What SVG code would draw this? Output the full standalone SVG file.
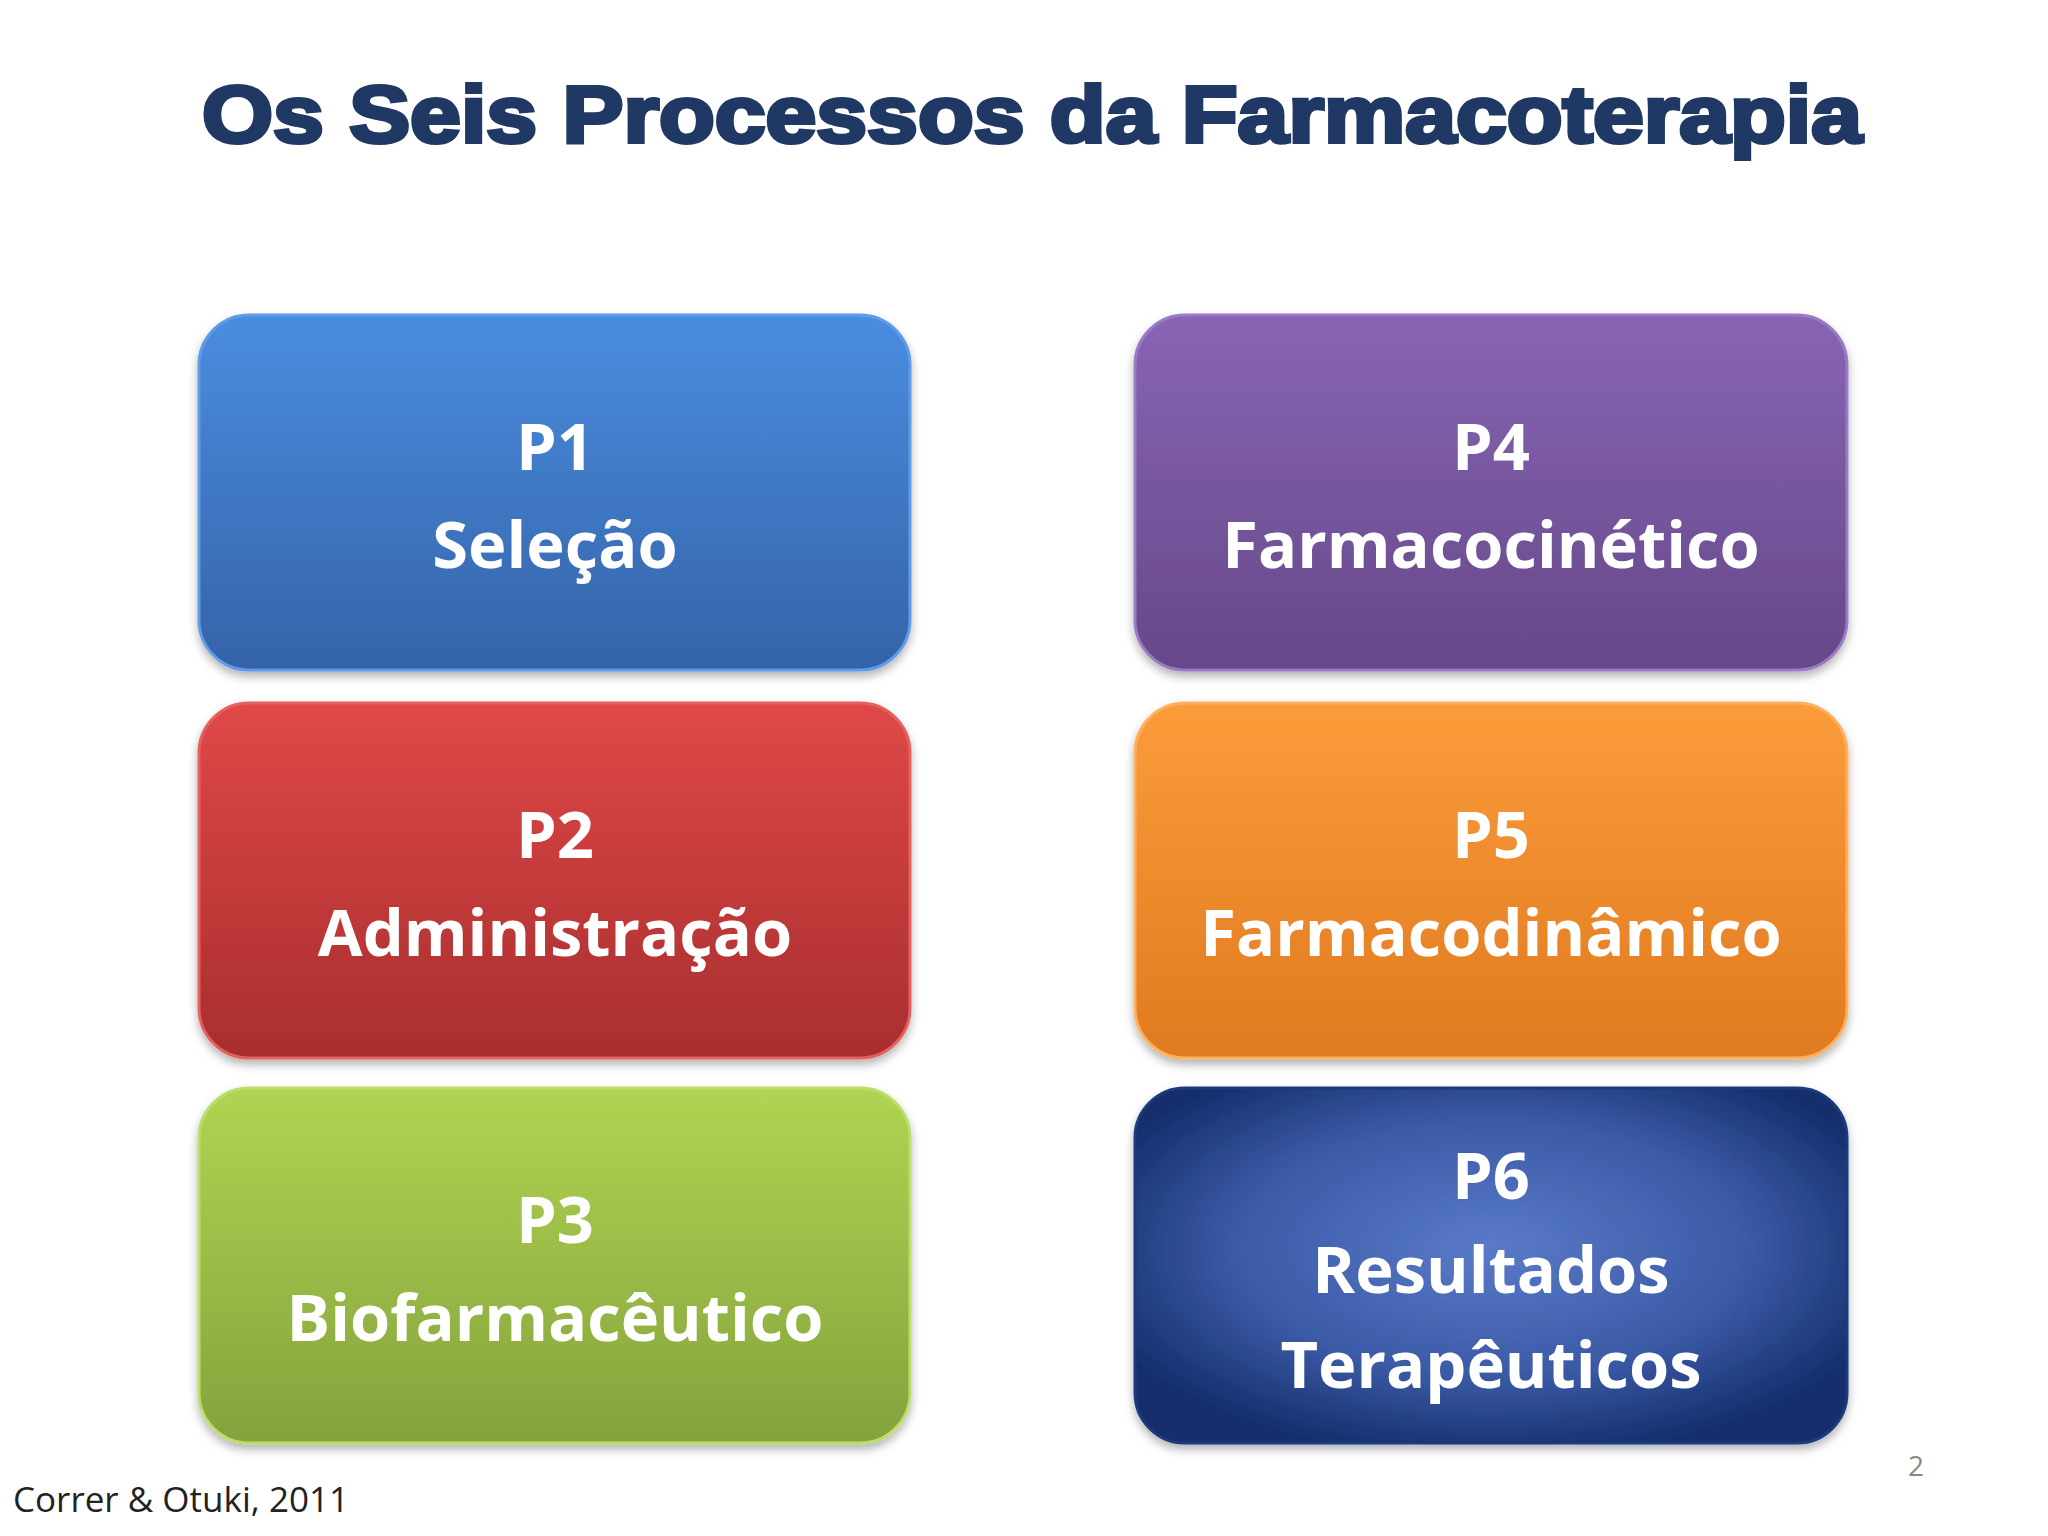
<svg xmlns="http://www.w3.org/2000/svg" width="2048" height="1536" viewBox="0 0 2048 1536">
<defs>
<linearGradient id="gBlue" x1="0" y1="0" x2="0" y2="1"><stop offset="0" stop-color="#4a8de0"/><stop offset="1" stop-color="#3563a8"/></linearGradient>
<linearGradient id="gPurple" x1="0" y1="0" x2="0" y2="1"><stop offset="0" stop-color="#8865b4"/><stop offset="1" stop-color="#654889"/></linearGradient>
<linearGradient id="gRed" x1="0" y1="0" x2="0" y2="1"><stop offset="0" stop-color="#e04848"/><stop offset="1" stop-color="#a82e2e"/></linearGradient>
<linearGradient id="gOrange" x1="0" y1="0" x2="0" y2="1"><stop offset="0" stop-color="#fb9c3a"/><stop offset="1" stop-color="#e07a20"/></linearGradient>
<linearGradient id="gGreen" x1="0" y1="0" x2="0" y2="1"><stop offset="0" stop-color="#b0d452"/><stop offset="1" stop-color="#84a23c"/></linearGradient>
<radialGradient id="gNavy" cx="0.5" cy="0.45" r="0.6"><stop offset="0" stop-color="#5a7ac8"/><stop offset="0.6" stop-color="#3b5aa6"/><stop offset="1" stop-color="#142e6c"/></radialGradient>
<filter id="sh" x="-5%" y="-5%" width="110%" height="115%"><feDropShadow dx="0" dy="5" stdDeviation="5" flood-color="#000" flood-opacity="0.3"/></filter>
</defs>
<style>
.box{filter:url(#sh);stroke-width:3}
.t{font-family:"Open Sans","Liberation Sans",sans-serif;font-weight:bold;font-size:65px;fill:#fff;text-anchor:middle}
</style>
<rect width="2048" height="1536" fill="#fff"/>
<text x="1032" y="142" text-anchor="middle" textLength="1660" lengthAdjust="spacingAndGlyphs" font-family="'Liberation Sans',Arial,sans-serif" font-weight="900" font-size="80" fill="#1f3864" stroke="#1f3864" stroke-width="4">Os Seis Processos da Farmacoterapia</text>
<g id="p1"><rect class="box" x="199" y="315" width="711" height="355" rx="50" fill="url(#gBlue)" stroke="#5f9be6"/><text class="t" x="555" y="470">P1</text><text class="t" x="555" y="568">Seleção</text></g>
<g id="p2"><rect class="box" x="199" y="703" width="711" height="355" rx="50" fill="url(#gRed)" stroke="#e66060"/><text class="t" x="555" y="858">P2</text><text class="t" x="555" y="956">Administração</text></g>
<g id="p3"><rect class="box" x="199" y="1088" width="711" height="355" rx="50" fill="url(#gGreen)" stroke="#bddc6a"/><text class="t" x="555" y="1243">P3</text><text class="t" x="555" y="1341">Biofarmacêutico</text></g>
<g id="p4"><rect class="box" x="1135" y="315" width="712" height="355" rx="50" fill="url(#gPurple)" stroke="#9a7bc4"/><text class="t" x="1491" y="470">P4</text><text class="t" x="1491" y="568">Farmacocinético</text></g>
<g id="p5"><rect class="box" x="1135" y="703" width="712" height="355" rx="50" fill="url(#gOrange)" stroke="#fdb060"/><text class="t" x="1491" y="858">P5</text><text class="t" x="1491" y="956">Farmacodinâmico</text></g>
<g id="p6"><rect class="box" x="1135" y="1088" width="712" height="355" rx="50" fill="url(#gNavy)" stroke="#1a3a7c"/><text class="t" x="1491" y="1199">P6</text><text class="t" x="1491" y="1293">Resultados</text><text class="t" x="1491" y="1388">Terapêuticos</text></g>
<g id="connectors"/>
<text x="13" y="1512" font-family="'Open Sans','Liberation Sans',sans-serif" font-size="35" fill="#222">Correr &amp; Otuki, 2011</text>
<text x="1916" y="1476" text-anchor="middle" font-family="'Open Sans','Liberation Sans',sans-serif" font-size="28" fill="#888">2</text>
</svg>
